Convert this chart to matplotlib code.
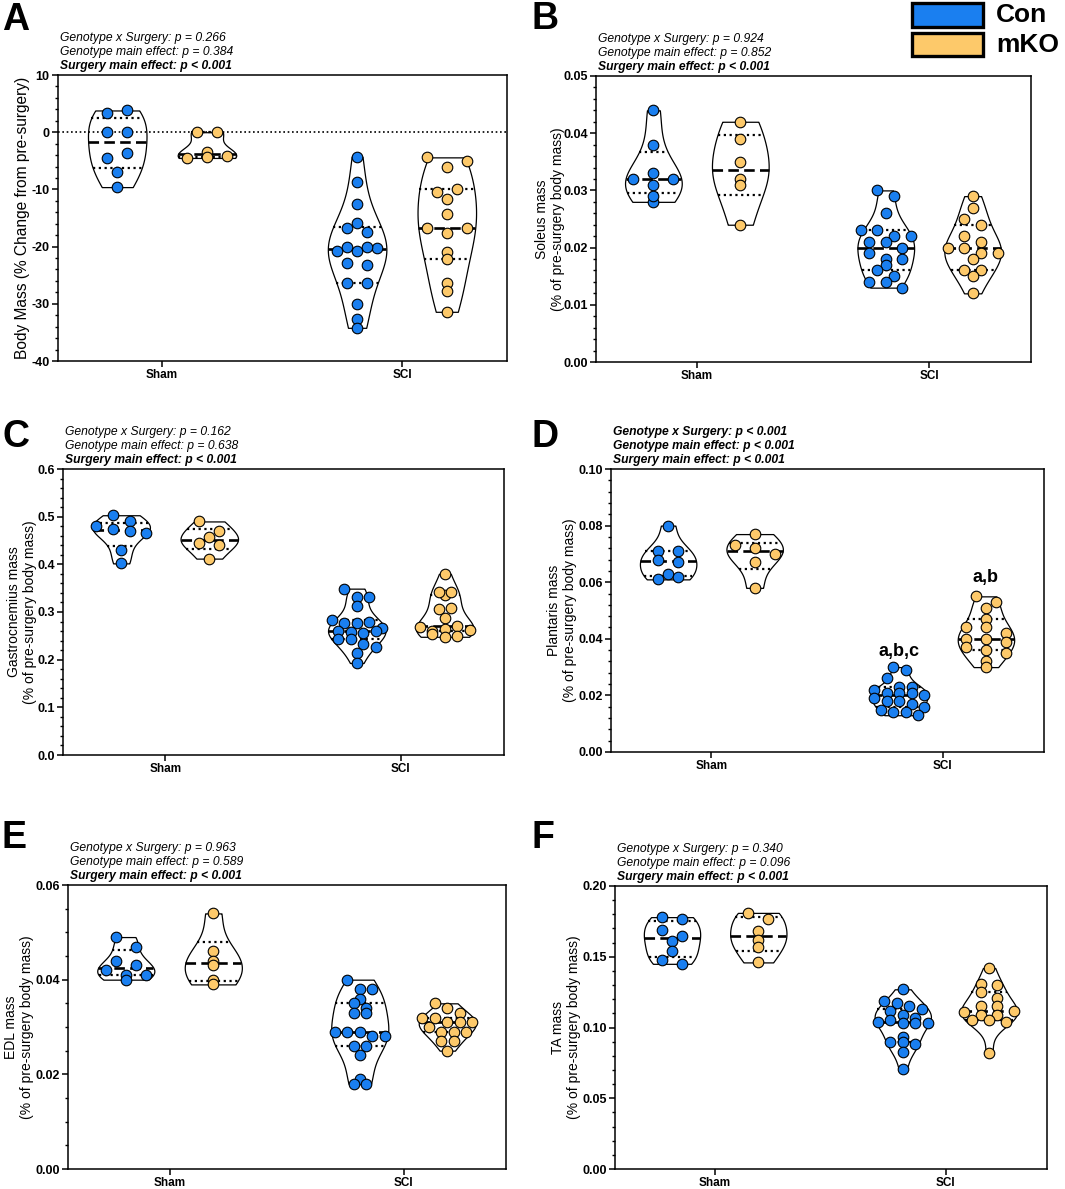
import numpy as np
import matplotlib
matplotlib.use("Agg")
import matplotlib.pyplot as plt
from matplotlib.patches import Rectangle
from matplotlib.ticker import MultipleLocator, FormatStrFormatter

plt.rcParams['font.family'] = ['Liberation Sans', 'DejaVu Sans']
plt.rcParams['axes.unicode_minus'] = False

W, H = 1065, 1189
BLUE = '#1a7ff0'
ORANGE = '#fdc96a'

surgery = ['Sham', 'SCI']
genotype = ['Con', 'mKO']

# A - body mass change (%)
a_con_sham = [3.3, 3.8, 0.0, 0.0, -4.5, -3.6, -6.9, -9.6]
a_mko_sham = [0.0, 0.0, -4.5, -3.4, -4.3, -4.2]
a_con_sci = [-4.3, -8.7, -12.5, -16.7, -17.4, -15.9, -20.0, -20.8, -20.8, -20.2, -20.0,
             -22.8, -23.3, -26.3, -26.3, -30.0, -32.7, -34.2]
a_mko_sci = [-4.4, -6.0, -5.0, -10.5, -10.0, -11.6, -14.3, -16.7, -17.6, -16.7, -21.0,
             -22.2, -26.4, -27.8, -31.4]

# B - soleus
b_con_sham = [0.044, 0.038, 0.032, 0.033, 0.031, 0.032, 0.028, 0.029]
b_mko_sham = [0.042, 0.039, 0.035, 0.032, 0.031, 0.024]
b_con_sci = [0.030, 0.029, 0.026, 0.023, 0.023, 0.022, 0.022, 0.021, 0.021, 0.020, 0.019,
             0.018, 0.018, 0.017, 0.016, 0.015, 0.014, 0.014, 0.013]
b_mko_sci = [0.029, 0.027, 0.025, 0.024, 0.022, 0.021, 0.020, 0.020, 0.019, 0.019, 0.018,
             0.016, 0.016, 0.015, 0.012]

# C - gastrocnemius
c_con_sham = [0.503, 0.490, 0.480, 0.474, 0.470, 0.465, 0.430, 0.402]
c_mko_sham = [0.490, 0.470, 0.458, 0.445, 0.440, 0.412]
c_con_sci = [0.349, 0.331, 0.331, 0.313, 0.284, 0.276, 0.277, 0.278, 0.266, 0.260, 0.259,
             0.255, 0.261, 0.244, 0.244, 0.232, 0.227, 0.213, 0.193]
c_mko_sci = [0.380, 0.335, 0.342, 0.342, 0.307, 0.308, 0.287, 0.269, 0.261, 0.264, 0.271,
             0.262, 0.253, 0.248, 0.250]

# D - plantaris
d_con_sham = [0.080, 0.071, 0.071, 0.068, 0.067, 0.063, 0.061, 0.062]
d_mko_sham = [0.077, 0.073, 0.072, 0.070, 0.067, 0.058]
d_con_sci = [0.030, 0.029, 0.026, 0.023, 0.023, 0.022, 0.021, 0.021, 0.021, 0.020, 0.019,
             0.018, 0.018, 0.017, 0.016, 0.015, 0.014, 0.014, 0.013]
d_mko_sci = [0.055, 0.053, 0.051, 0.047, 0.044, 0.044, 0.042, 0.040, 0.040, 0.039, 0.037,
             0.036, 0.035, 0.032, 0.030]
d_letters = ['a,b,c', 'a,b']
d_letter_y = [0.0355, 0.0615]

# E - EDL
e_con_sham = [0.049, 0.047, 0.044, 0.043, 0.042, 0.041, 0.041, 0.040]
e_mko_sham = [0.054, 0.046, 0.044, 0.043, 0.040, 0.039]
e_con_sci = [0.040, 0.038, 0.038, 0.036, 0.035, 0.034, 0.033, 0.033, 0.029, 0.029, 0.029,
             0.028, 0.028, 0.026, 0.026, 0.024, 0.019, 0.018, 0.018]
e_mko_sci = [0.035, 0.034, 0.033, 0.032, 0.032, 0.031, 0.031, 0.031, 0.030, 0.029, 0.029,
             0.029, 0.027, 0.027, 0.025]

# F - TA
f_con_sham = [0.178, 0.177, 0.169, 0.165, 0.161, 0.154, 0.148, 0.145]
f_mko_sham = [0.181, 0.177, 0.168, 0.162, 0.157, 0.146]
f_con_sci = [0.127, 0.119, 0.117, 0.115, 0.113, 0.112, 0.109, 0.107, 0.104, 0.105, 0.103,
             0.103, 0.103, 0.093, 0.090, 0.090, 0.088, 0.083, 0.071]
f_mko_sci = [0.142, 0.131, 0.130, 0.125, 0.121, 0.115, 0.115, 0.111, 0.109, 0.109, 0.112,
             0.105, 0.105, 0.104, 0.082]

stats_a = ['Genotype x Surgery: p = 0.266', 'Genotype main effect: p = 0.384',
           'Surgery main effect: p < 0.001']
stats_b = ['Genotype x Surgery: p = 0.924', 'Genotype main effect: p = 0.852',
           'Surgery main effect: p < 0.001']
stats_c = ['Genotype x Surgery: p = 0.162', 'Genotype main effect: p = 0.638',
           'Surgery main effect: p < 0.001']
stats_d = ['Genotype x Surgery: p < 0.001', 'Genotype main effect: p < 0.001',
           'Surgery main effect: p < 0.001']
stats_e = ['Genotype x Surgery: p = 0.963', 'Genotype main effect: p = 0.589',
           'Surgery main effect: p < 0.001']
stats_f = ['Genotype x Surgery: p = 0.340', 'Genotype main effect: p = 0.096',
           'Surgery main effect: p < 0.001']

GROUP_X = [0.0, 1.0]
OFFSET = 0.187
HALF_W = 0.122
DOT = 10.0    # marker diameter, px
ROW_H = 10.0  # height of one swarm row, px
SPAN = 50.0   # widest a swarm row may get, px


def fx(px):
    return px / W


def fy(py):
    return 1 - py / H


def kde_shape(vals, n=200):
    """Gaussian kde between min and max, scaled so the widest point is 1."""
    v = np.asarray(vals, float)
    bw = v.std(ddof=1) * len(v) ** (-0.2)
    y = np.linspace(v.min(), v.max(), n)
    dens = np.exp(-0.5 * ((y[:, None] - v[None, :]) / bw) ** 2).sum(1)
    return y, dens / dens.max()


def swarm_x(ax, xc, vals):
    """Prism-like scatter: points binned in rows, spread on a common column grid."""
    vals = np.asarray(vals, float)
    pts = ax.transData.transform(np.column_stack([np.full(len(vals), xc), vals]))
    rows = np.floor((pts[:, 1].max() - pts[:, 1]) / ROW_H).astype(int)
    kmax = np.bincount(rows).max()
    gap = min(2.0 * DOT, SPAN / max(kmax - 1, 1))
    xs = pts[:, 0].copy()
    for r in np.unique(rows):
        idx = np.where(rows == r)[0]
        k = len(idx)
        xs[idx] += (np.arange(k) - (k - 1) / 2) * gap
    return ax.transData.inverted().transform(np.column_stack([xs, pts[:, 1]]))[:, 0]


def draw_violin(ax, xc, vals, color):
    y, dens = kde_shape(vals)
    ax.fill_betweenx(y, xc - HALF_W * dens, xc + HALF_W * dens, facecolor='white',
                     edgecolor='black', lw=0.9, zorder=2)
    q1, med, q3 = np.percentile(vals, [25, 50, 75], method='weibull')
    for q, ls, lw in [(q1, (0, (1, 1.6)), 1.6), (q3, (0, (1, 1.6)), 1.6), (med, (0, (4, 2)), 1.9)]:
        w = HALF_W * np.interp(q, y, dens)
        ax.plot([xc - w, xc + w], [q, q], color='black', ls=ls, lw=lw, zorder=3)
    xs = swarm_x(ax, xc, vals)
    ax.scatter(xs, vals, s=58, color=color, edgecolor='black', linewidth=0.8, zorder=4)


def make_panel(box, groups, ylim, major, minor, fmt, ylabel, label_x, stats, bold,
               letter, letter_xy, zero_line=False, label_size=10):
    left, top, right, bottom = box
    ax = fig.add_axes([fx(left), fy(bottom), fx(right - left), (bottom - top) / H])
    ax.set_xlim(-0.434, 1.438)
    ax.set_ylim(*ylim)
    for sp in ax.spines.values():
        sp.set_linewidth(1.1)
    ax.yaxis.set_major_locator(MultipleLocator(major))
    ax.yaxis.set_minor_locator(MultipleLocator(minor))
    ax.yaxis.set_major_formatter(FormatStrFormatter(fmt))
    ax.set_xticks(GROUP_X)
    ax.set_xticklabels(surgery)
    ax.tick_params(axis='both', which='major', direction='out', length=4, width=1.1, pad=2)
    ax.tick_params(axis='y', which='major', labelsize=9)
    ax.tick_params(axis='x', which='major', labelsize=8.5)
    ax.tick_params(axis='y', which='minor', direction='out', length=2.2, width=1.0)
    for t in ax.get_xticklabels() + ax.get_yticklabels():
        t.set_fontweight('bold')
    if zero_line:
        ax.axhline(0, color='black', ls=(0, (1, 1.6)), lw=1.2, zorder=3.5)

    for gi, xc in enumerate(GROUP_X):
        for k, (sign, color) in enumerate([(-1, BLUE), (1, ORANGE)]):
            draw_violin(ax, xc + sign * OFFSET, groups[gi][k], color)

    fig.text(fx(label_x), fy((top + bottom) / 2), ylabel, rotation=90, ha='center',
             va='center', fontsize=label_size, linespacing=1.15)
    for i, s in enumerate(stats):
        fig.text(fx(left + 2), fy(top - 37 + 14 * i), s, fontsize=8.7, style='italic',
                 fontweight='bold' if bold[i] else 'normal', ha='left', va='center')
    fig.text(fx(letter_xy[0]), fy(letter_xy[1]), letter, fontsize=27, fontweight='bold',
             ha='left', va='center')
    return ax


fig = plt.figure(figsize=(W / 100, H / 100), dpi=100)

make_panel((58, 75, 507, 361), [[a_con_sham, a_mko_sham], [a_con_sci, a_mko_sci]],
           (-40, 10), 10, 2, '%d', 'Body Mass (% Change from pre-surgery)', 23,
           stats_a, [False, False, True], 'A', (2, 20), zero_line=True, label_size=11.2)
make_panel((596, 76, 1031, 362), [[b_con_sham, b_mko_sham], [b_con_sci, b_mko_sci]],
           (0, 0.05), 0.01, 0.002, '%.2f', 'Soleus mass\n(% of pre-surgery body mass)', 550,
           stats_b, [False, False, True], 'B', (531, 19))
make_panel((63, 469, 504, 755), [[c_con_sham, c_mko_sham], [c_con_sci, c_mko_sci]],
           (0, 0.6), 0.1, 0.02, '%.1f', 'Gastrocnemius mass\n(% of pre-surgery body mass)', 22,
           stats_c, [False, False, True], 'C', (2, 437))
ax_d = make_panel((611, 469, 1044, 752), [[d_con_sham, d_mko_sham], [d_con_sci, d_mko_sci]],
                  (0, 0.10), 0.02, 0.004, '%.2f', 'Plantaris mass\n(% of pre-surgery body mass)',
                  562, stats_d, [True, True, True], 'D', (531, 437))
make_panel((68, 885, 506, 1169), [[e_con_sham, e_mko_sham], [e_con_sci, e_mko_sci]],
           (0, 0.06), 0.02, 0.005, '%.2f', 'EDL mass\n(% of pre-surgery body mass)', 19,
           stats_e, [False, False, True], 'E', (2, 838))
make_panel((615, 886, 1047, 1169), [[f_con_sham, f_mko_sham], [f_con_sci, f_mko_sci]],
           (0, 0.20), 0.05, 0.01, '%.2f', 'TA mass\n(% of pre-surgery body mass)', 566,
           stats_f, [False, False, True], 'F', (531, 838))

for txt, yv, sign in zip(d_letters, d_letter_y, [-1, 1]):
    ax_d.text(GROUP_X[1] + sign * OFFSET, yv, txt, ha='center', va='center',
              fontsize=13, fontweight='bold')

# legend in the top right corner
for (y0, y1), color, name in [((3, 27), BLUE, genotype[0]), ((33, 56), ORANGE, genotype[1])]:
    fig.patches.append(Rectangle((fx(912), fy(y1)), fx(983 - 912), (y1 - y0) / H,
                                 transform=fig.transFigure, facecolor=color,
                                 edgecolor='black', lw=2.4))
    fig.text(fx(996), fy((y0 + y1) / 2), name, fontsize=19, fontweight='bold',
             ha='left', va='center')

fig.savefig('out.png', dpi=100)
